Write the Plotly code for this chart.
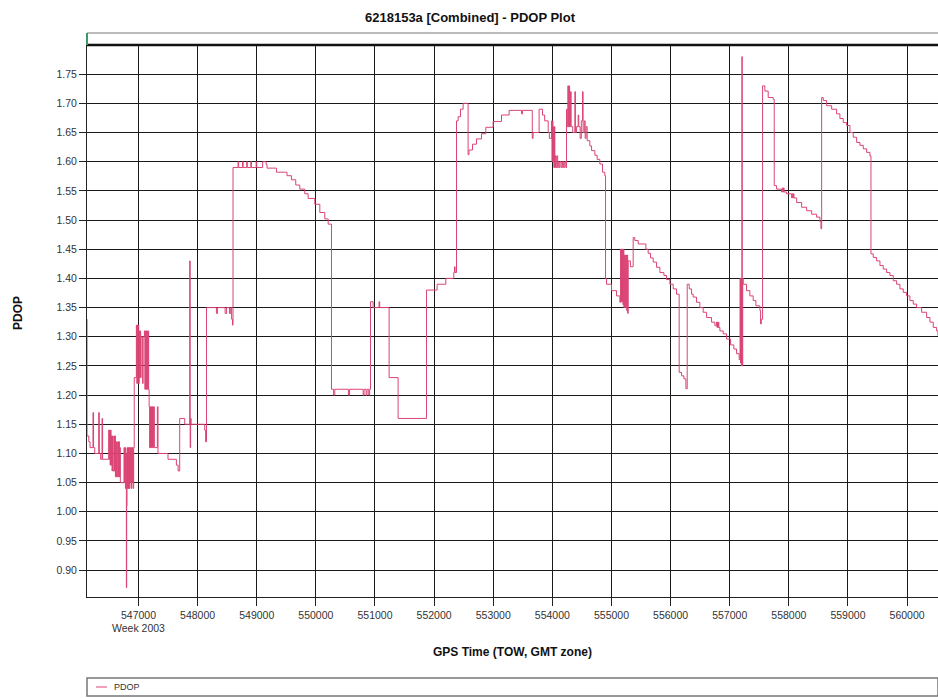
import plotly.graph_objects as go

# ---------------- data (GPS time of week, PDOP) ----------------
tow_a = [546124, 546130, 546160, 546180, 546230, 546240, 546260, 546327, 546337, 546360, 546383, 546393,
         546496, 546504, 546512, 546520, 546528, 546536, 546544, 546552, 546560, 546569,
         546585, 546593, 546601, 546609, 546617, 546625, 546633, 546640,
         546653, 546661, 546669, 546677, 546685, 546693, 546700,
         546755, 546763, 546771, 546779, 546787, 546795, 546800, 546806, 546814, 546822, 546830,
         546838, 546846, 546854, 546862, 546870, 546878, 546886, 546894, 546902, 546910, 546918]
pdop_a = [1.33, 1.13, 1.12, 1.11, 1.17, 1.11, 1.10, 1.17, 1.10, 1.09, 1.16, 1.09,
          1.14, 1.09, 1.14, 1.08, 1.14, 1.08, 1.13, 1.07, 1.13, 1.07,
          1.13, 1.07, 1.13, 1.06, 1.12, 1.06, 1.12, 1.06,
          1.12, 1.06, 1.12, 1.06, 1.11, 1.05, 1.05,
          1.11, 1.05, 1.11, 1.04, 1.10, 0.87, 1.01, 1.11, 1.04, 1.11, 1.04,
          1.11, 1.04, 1.11, 1.05, 1.11, 1.04, 1.11, 1.05, 1.11, 1.04, 1.11]

tow_b = [546928, 546964, 546972, 546980, 546988, 546996, 547004, 547012, 547020, 547028, 547036, 547044, 547070, 547078,
         547100, 547108, 547116, 547124, 547132, 547140, 547148, 547156, 547164, 547172,
         547180, 547188, 547196, 547204, 547212, 547220, 547228, 547236, 547244, 547252, 547260, 547268,
         547319, 547330]
pdop_b = [1.23, 1.32, 1.22, 1.32, 1.22, 1.32, 1.22, 1.31, 1.23, 1.31, 1.23, 1.30, 1.22, 1.30,
          1.31, 1.21, 1.31, 1.21, 1.31, 1.21, 1.31, 1.21, 1.31, 1.21,
          1.18, 1.11, 1.18, 1.11, 1.18, 1.11, 1.18, 1.11, 1.18, 1.11, 1.18, 1.11,
          1.18, 1.10]

tow_c = [547499, 547641, 547670, 547697, 547782, 547866, 547874, 547882, 547890, 548120,
         548135, 548150, 548318, 548335, 548465, 548490, 548540, 548560, 548575, 548590]
pdop_c = [1.09, 1.08, 1.07, 1.16, 1.15, 1.43, 1.11, 1.16, 1.15, 1.14,
          1.12, 1.35, 1.34, 1.35, 1.34, 1.35, 1.34, 1.35, 1.33, 1.32]

tow_d = [548599, 548684, 548694, 548760, 548770, 548830, 548840, 548900, 548910, 548990,
         549000, 549100, 549160, 549174, 549333, 549512, 549587, 549660, 549728, 549812,
         549869, 549982, 550067, 550151, 550208]
pdop_d = [1.59, 1.60, 1.59, 1.60, 1.59, 1.60, 1.59, 1.60, 1.59, 1.60,
          1.59, 1.60, 1.595, 1.589, 1.582, 1.576, 1.569, 1.56, 1.553, 1.545,
          1.537, 1.527, 1.513, 1.502, 1.493]

tow_e = [550264, 550300, 550320, 550550, 550570, 550800, 550815, 550850, 550865, 550895,
         550910, 550924, 550968, 551069, 551080, 551239, 551391, 551871]
pdop_e = [1.21, 1.20, 1.21, 1.20, 1.21, 1.20, 1.21, 1.20, 1.21, 1.20,
          1.21, 1.36, 1.35, 1.36, 1.35, 1.23, 1.16, 1.38]

tow_f = [552051, 552198, 552333, 552345, 552355, 552379, 552406, 552446, 552491, 552575,
         552590, 552650, 552717, 552802, 552875, 552998, 553140, 553269, 553479, 553495,
         553660, 553675, 553776, 553833, 553870, 553930, 553950]
pdop_f = [1.39, 1.40, 1.41, 1.42, 1.41, 1.67, 1.677, 1.69, 1.70, 1.612,
          1.62, 1.63, 1.639, 1.648, 1.659, 1.669, 1.68, 1.688, 1.682, 1.688,
          1.64, 1.65, 1.69, 1.68, 1.67, 1.65, 1.64]

tow_g = [553986, 553994, 554002, 554010, 554018, 554026, 554034, 554042, 554050, 554060,
         554075, 554090, 554100, 554115, 554130, 554150, 554170, 554190, 554210, 554228,
         554240, 554250, 554262, 554272, 554284, 554292, 554308, 554318, 554345, 554381,
         554390, 554410, 554437, 554447, 554470, 554490, 554511, 554520, 554540, 554555, 554570,
         554589, 554634, 554663, 554719, 554758, 554803, 554849, 554888, 554900, 554917,
         555001, 555086, 555142]
pdop_g = [1.67, 1.60, 1.67, 1.60, 1.66, 1.59, 1.66, 1.59, 1.61, 1.59,
          1.61, 1.59, 1.60, 1.59, 1.60, 1.59, 1.60, 1.59, 1.60, 1.59,
          1.69, 1.66, 1.73, 1.66, 1.73, 1.66, 1.72, 1.66, 1.65, 1.72,
          1.65, 1.66, 1.68, 1.66, 1.64, 1.67, 1.72, 1.65, 1.67, 1.64, 1.66,
          1.636, 1.627, 1.619, 1.611, 1.604, 1.596, 1.582, 1.576, 1.40, 1.39,
          1.379, 1.37, 1.359]

tow_h = [555154, 555162, 555170, 555178, 555186, 555194, 555202, 555210, 555218, 555226,
         555234, 555242, 555250, 555258, 555266, 555274, 555283, 555320, 555367, 555395,
         555452, 555582, 555621, 555661, 555706, 555763, 555819, 555887, 555932, 555988,
         556044, 556101, 556145, 556186, 556225, 556259]
pdop_h = [1.45, 1.36, 1.45, 1.36, 1.45, 1.355, 1.45, 1.35, 1.44, 1.35,
          1.44, 1.35, 1.44, 1.345, 1.44, 1.34, 1.43, 1.42, 1.47, 1.465,
          1.459, 1.45, 1.443, 1.435, 1.428, 1.419, 1.41, 1.405, 1.398, 1.39,
          1.382, 1.373, 1.239, 1.233, 1.228, 1.211]

tow_i = [556281, 556315, 556355, 556382, 556439, 556495, 556551, 556609, 556693, 556749,
         556778, 556785, 556792, 556800, 556808, 556816, 556834, 556890, 556947, 557015,
         557070, 557116, 557160, 557175, 557183, 557191, 557199, 557206, 557212, 557220, 557228]
pdop_i = [1.39, 1.382, 1.373, 1.368, 1.359, 1.35, 1.342, 1.333, 1.325, 1.319,
          1.325, 1.316, 1.325, 1.316, 1.325, 1.316, 1.31, 1.305, 1.296, 1.286,
          1.279, 1.271, 1.261, 1.40, 1.255, 1.40, 1.25, 1.78, 1.25, 1.40, 1.39]

tow_j = [557285, 557341, 557397, 557443, 557511, 557522, 557535, 557556, 557595, 557651,
         557736, 557753, 557793, 557878, 557890, 557900, 557910, 557920, 557962, 558047,
         558057, 558067, 558077, 558087, 558132, 558216, 558301, 558386, 558470, 558526,
         558543, 558555, 558582, 558639, 558724, 558808, 558864, 558920, 558978, 559034,
         559089, 559147, 559203, 559259, 559316, 559372, 559389, 559428, 559485, 559541,
         559597, 559654, 559710, 559766, 559823, 559879, 559935, 559992, 560048, 560104,
         560161, 560246, 560331, 560387, 560443, 560500, 560522]
pdop_j = [1.379, 1.37, 1.362, 1.353, 1.345, 1.322, 1.33, 1.73, 1.721, 1.71,
          1.707, 1.559, 1.553, 1.548, 1.555, 1.548, 1.555, 1.548, 1.545, 1.538,
          1.545, 1.538, 1.545, 1.538, 1.53, 1.522, 1.516, 1.51, 1.505, 1.497,
          1.485, 1.71, 1.705, 1.696, 1.69, 1.682, 1.674, 1.667, 1.662, 1.65,
          1.642, 1.633, 1.628, 1.622, 1.616, 1.61, 1.442, 1.436, 1.43, 1.422,
          1.416, 1.41, 1.405, 1.396, 1.39, 1.382, 1.376, 1.37, 1.362, 1.356,
          1.35, 1.342, 1.333, 1.325, 1.316, 1.31, 1.302]

x_tick_vals = [547000, 548000, 549000, 550000, 551000, 552000, 553000,
               554000, 555000, 556000, 557000, 558000, 559000, 560000]
x_tick_text = ["547000<br>Week 2003", "548000", "549000", "550000", "551000", "552000", "553000",
               "554000", "555000", "556000", "557000", "558000", "559000", "560000"]
y_tick_vals = [0.90, 0.95, 1.00, 1.05, 1.10, 1.15, 1.20, 1.25, 1.30, 1.35,
               1.40, 1.45, 1.50, 1.55, 1.60, 1.65, 1.70, 1.75]

tow = tow_a + tow_b + tow_c + tow_d + tow_e + tow_f + tow_g + tow_h + tow_i + tow_j
pdop = pdop_a + pdop_b + pdop_c + pdop_d + pdop_e + pdop_f + pdop_g + pdop_h + pdop_i + pdop_j
assert len(tow) == len(pdop)

LINE = "#da4474"
FONT = "Liberation Sans, Arial, sans-serif"

W, H = 938, 698
L, T, B = 87, 45, 101

fig = go.Figure()
fig.add_trace(go.Scatter(x=tow, y=pdop, mode="lines", name="PDOP",
                         line=dict(shape="hv", color=LINE, width=1), showlegend=False))

fig.update_layout(
    width=W, height=H,
    margin=dict(l=L, r=0, t=T, b=B, autoexpand=False),
    paper_bgcolor="white", plot_bgcolor="white",
    font=dict(family=FONT, color="#333"),
    title=dict(text="<b>6218153a [Combined] - PDOP Plot</b>", x=470 / W, xanchor="center",
               y=1 - 17 / H, yanchor="middle", font=dict(size=13, color="#111", family=FONT)),
    xaxis=dict(range=[546129, 560523], tickvals=x_tick_vals, ticktext=x_tick_text,
               showgrid=True, gridcolor="#1a1a1a", gridwidth=1, automargin=False,
               showline=True, linecolor="#222", linewidth=1,
               ticks="outside", ticklen=8, tickcolor="#222",
               tickfont=dict(size=10.5, color="#333", family=FONT), zeroline=False),
    yaxis=dict(range=[0.854, 1.80], tickvals=y_tick_vals, tickformat=".2f",
               showgrid=True, gridcolor="#1a1a1a", gridwidth=1, automargin=False,
               showline=True, linecolor="#222", linewidth=1,
               ticks="outside", ticklen=7, tickcolor="#222",
               tickfont=dict(size=10.5, color="#333", family=FONT), zeroline=False),
)

PW, PH = 851, 552  # plot area size in px
# frame decorations above the plot area
fig.add_shape(type="line", xref="paper", yref="paper", x0=0, x1=1, y0=1, y1=1,
              line=dict(color="#111", width=2.5))
fig.add_shape(type="line", xref="paper", yref="paper", x0=0, x1=1, y0=1 + 12 / PH, y1=1 + 12 / PH,
              line=dict(color="#777", width=1))
fig.add_shape(type="line", xref="paper", yref="paper", x0=0, x1=0, y0=1.0, y1=1 + 12 / PH,
              line=dict(color="#3a9a6a", width=2))

# axis titles
fig.add_annotation(text="<b>PDOP</b>", xref="paper", yref="paper", x=(18 - 87) / PW, y=(597 - 313) / PH,
                   xanchor="center", yanchor="middle",
                   textangle=-90, showarrow=False, font=dict(size=12, color="#111", family=FONT))
fig.add_annotation(text="<b>GPS Time (TOW, GMT zone)</b>", xref="paper", yref="paper",
                   x=0.5, y=(597 - 652) / PH, xanchor="center", yanchor="middle", showarrow=False,
                   font=dict(size=12, color="#111", family=FONT))

# legend box
fig.add_shape(type="rect", xref="paper", yref="paper", x0=0, x1=1.0, y0=(597 - 696) / PH,
              y1=(597 - 678) / PH, line=dict(color="#777", width=1.5))
fig.add_shape(type="line", xref="paper", yref="paper", x0=(96 - 87) / PW, x1=(107 - 87) / PW,
              y0=(597 - 687) / PH, y1=(597 - 687) / PH, line=dict(color=LINE, width=1))
fig.add_annotation(text="PDOP", xref="paper", yref="paper", x=(112 - 87) / PW, y=(597 - 687) / PH,
                   xanchor="left", yanchor="middle", showarrow=False,
                   font=dict(size=9, color="#333", family=FONT))

fig.write_html("out.html", config={"displayModeBar": False},
               post_script="document.body.style.margin='0';document.documentElement.style.overflow='hidden';")
